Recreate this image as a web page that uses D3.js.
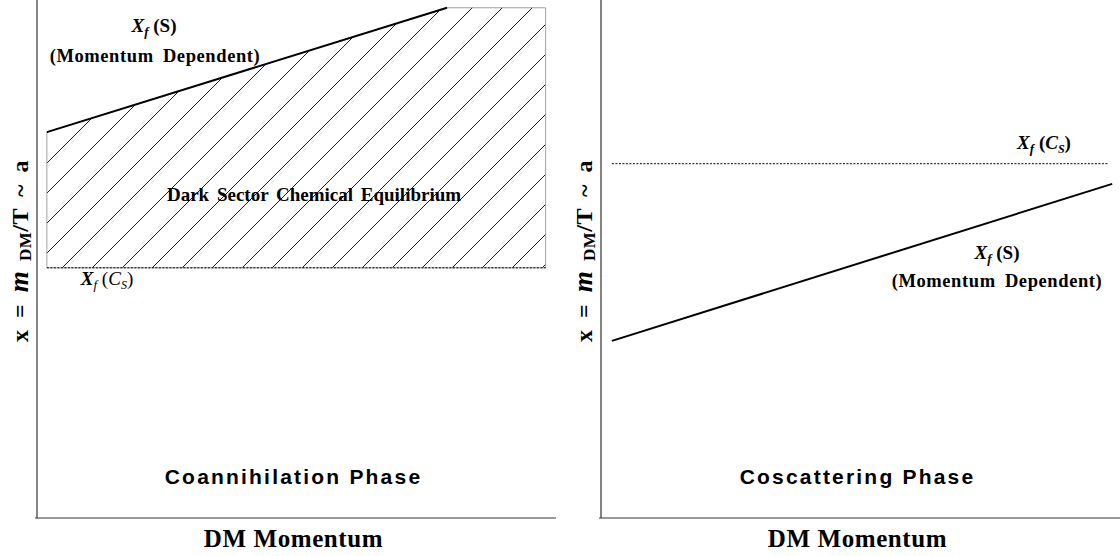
<!DOCTYPE html>
<html><head><meta charset="utf-8">
<script src="https://cdn.jsdelivr.net/npm/d3@7"></script>
<style>body{margin:0;background:#fff}svg{display:block}</style>
</head><body>
<svg id="c" width="1120" height="556"></svg>
<script>
// ---- data (schematic units 0..100) ----
const panels = ["Coannihilation Phase", "Coscattering Phase"];
const xLabel = "DM Momentum";
// left panel: momentum-dependent freeze-out line X_f(S)
const leftMomentum = [1.9, 79];
const leftXfS = [74.5, 98.5];
// left hatched region right end and top
const leftRegionRight = 98;
const leftRegionTop = 98.5;
const leftXfCs = 48.3;      // dotted X_f(C_S) level
// right panel
const rightMomentum = [2.1, 98.5];
const rightXfS = [34.2, 64.5];
const rightXfCs = 68.4;
const rightCsRange = [2.1, 97.8];

const svg = d3.select("#c");
const panelX = [[37, 556], [601, 1120]];
const yRange = [518, 0];

function makeScales(i) {
  return {
    x: d3.scaleLinear().domain([0, 100]).range(panelX[i]),
    y: d3.scaleLinear().domain([0, 100]).range(yRange)
  };
}

// hatch pattern
const defs = svg.append("defs");
const pat = defs.append("pattern").attr("id", "hatch").attr("patternUnits", "userSpaceOnUse")
  .attr("width", 30).attr("height", 30);
pat.append("path").attr("d", "M-2,32 L32,-2 M-15,15 L15,-15 M15,45 L45,15")
  .attr("stroke", "#000").attr("stroke-width", 0.9).attr("fill", "none");

function yLabel(g, cx, cy) {
  const t = g.append("text").attr("transform", `translate(${cx},${cy}) rotate(-90)`)
    .attr("text-anchor", "middle").attr("font-family", "Liberation Serif")
    .attr("font-weight", "bold").attr("font-size", 24).attr("fill", "#000")
    .attr("letter-spacing", 0.5).attr("word-spacing", 5);
  t.append("tspan").text("x = ");
  t.append("tspan").attr("font-style", "italic").attr("font-size", 27).text("m");
  t.append("tspan").attr("font-size", 17).attr("dy", 3).text(" DM");
  t.append("tspan").attr("dy", -3).text("/T ~ a");
}

function xfLabel(g, x, y, sub, bold) {
  const t = g.append("text").attr("x", x).attr("y", y).attr("text-anchor", "middle")
    .attr("font-family", "Liberation Serif").attr("font-size", 19).attr("fill", "#000")
    .attr("font-weight", bold ? "bold" : "normal");
  t.append("tspan").attr("font-style", "italic").attr("font-weight", "bold").text("X");
  t.append("tspan").attr("font-style", "italic").attr("font-size", 13).attr("dy", 4).text("f");
  if (sub === "S") {
    t.append("tspan").attr("dy", -4).attr("font-weight", "bold").text(" (S)");
  } else {
    t.append("tspan").attr("dy", -4).text(" (");
    t.append("tspan").attr("font-style", "italic").text("C");
    t.append("tspan").attr("font-style", "italic").attr("font-size", 12).attr("dy", 4).text("S");
    t.append("tspan").attr("dy", -4).text(")");
  }
}

function momDep(g, x, y) {
  g.append("text").attr("x", x).attr("y", y).attr("text-anchor", "middle")
    .attr("font-family", "Liberation Serif").attr("font-weight", "bold").attr("font-size", 18.5)
    .attr("letter-spacing", 0.6).attr("word-spacing", 4).text("(Momentum Dependent)");
}

function frame(g, s, title) {
  g.append("line").attr("x1", s.x(0)).attr("x2", s.x(0)).attr("y1", s.y(100)).attr("y2", s.y(0))
    .attr("stroke", "#333").attr("stroke-width", 1.2);
  g.append("line").attr("x1", s.x(0) - 2).attr("x2", s.x(100)).attr("y1", s.y(0)).attr("y2", s.y(0))
    .attr("stroke", "#333").attr("stroke-width", 1.2);
  const xm = (s.x(0) + s.x(100)) / 2 - 3;
  g.append("text").attr("x", xm).attr("y", 484).attr("text-anchor", "middle")
    .attr("font-family", "Liberation Sans").attr("font-weight", "bold").attr("font-size", 21)
    .attr("letter-spacing", 2.2).text(title);
  g.append("text").attr("x", xm).attr("y", 547).attr("text-anchor", "middle")
    .attr("font-family", "Liberation Serif").attr("font-weight", "bold").attr("font-size", 25)
    .attr("letter-spacing", 0.6).text(xLabel);
}

// ---- left panel ----
{
  const s = makeScales(0);
  const g = svg.append("g");
  const poly = [
    [leftMomentum[0], leftXfCs],
    [leftMomentum[0], leftXfS[0]],
    [leftMomentum[1], leftXfS[1]],
    [leftRegionRight, leftRegionTop],
    [leftRegionRight, leftXfCs]
  ];
  const line = d3.line().x(d => s.x(d[0])).y(d => s.y(d[1]));
  g.append("path").attr("d", line(poly) + "Z").attr("fill", "url(#hatch)")
    .attr("stroke", "#888").attr("stroke-width", 0.8);
  g.append("path").attr("d", line([[leftMomentum[0], leftXfCs], [leftRegionRight, leftXfCs]]))
    .attr("stroke", "#000").attr("stroke-width", 1).attr("stroke-dasharray", "2,1.5").attr("fill", "none");
  g.append("path").attr("d", line(leftMomentum.map((m, i) => [m, leftXfS[i]])))
    .attr("stroke", "#000").attr("stroke-width", 2).attr("fill", "none");
  frame(g, s, panels[0]);
  yLabel(g, 28, 251);
  xfLabel(g, 154, 32, "S", true);
  momDep(g, 155, 62);
  g.append("text").attr("x", 314).attr("y", 201).attr("text-anchor", "middle")
    .attr("font-family", "Liberation Serif").attr("font-weight", "bold").attr("font-size", 19)
    .attr("word-spacing", 3).text("Dark Sector Chemical Equilibrium");
  xfLabel(g, 107, 285, "C", false);
}

// ---- right panel ----
{
  const s = makeScales(1);
  const g = svg.append("g");
  const line = d3.line().x(d => s.x(d[0])).y(d => s.y(d[1]));
  g.append("path").attr("d", line(rightCsRange.map(m => [m, rightXfCs])))
    .attr("stroke", "#000").attr("stroke-width", 1).attr("stroke-dasharray", "2,1.5").attr("fill", "none");
  g.append("path").attr("d", line(rightMomentum.map((m, i) => [m, rightXfS[i]])))
    .attr("stroke", "#000").attr("stroke-width", 2).attr("fill", "none");
  frame(g, s, panels[1]);
  yLabel(g, 592, 251);
  xfLabel(g, 1044, 149, "C", true);
  xfLabel(g, 997, 259, "S", true);
  momDep(g, 997, 287);
}
</script>
</body></html>
